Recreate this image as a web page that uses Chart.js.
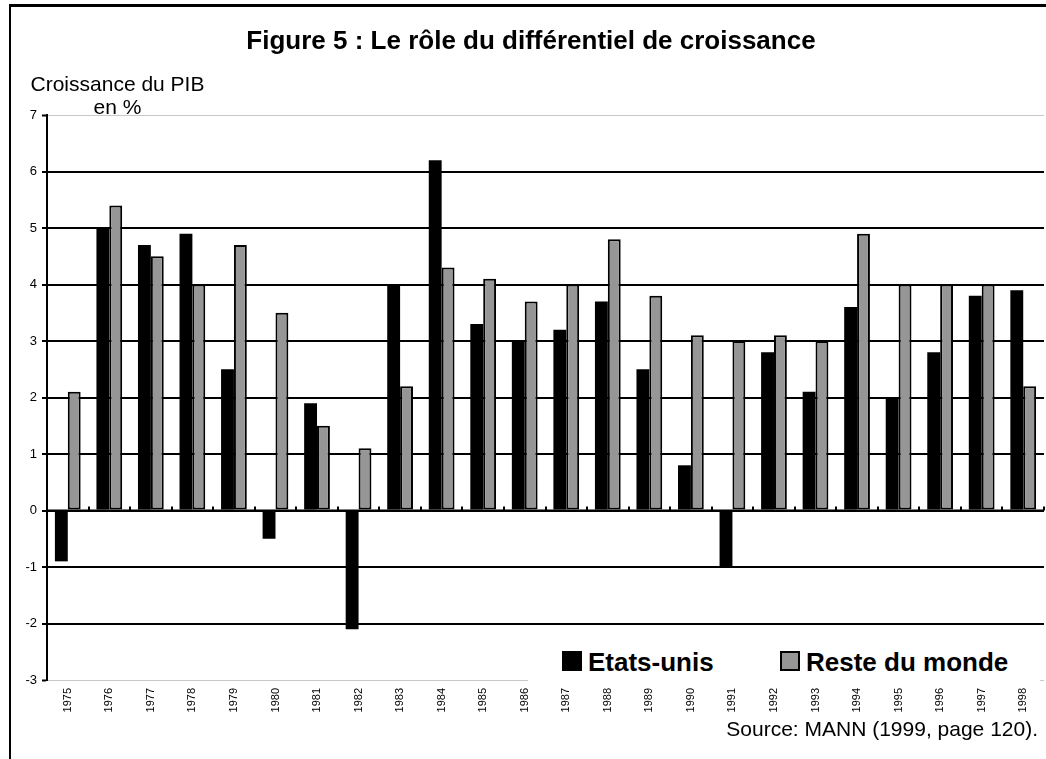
<!DOCTYPE html>
<html lang="fr">
<head>
<meta charset="utf-8">
<title>Figure 5</title>
<script src="https://cdn.jsdelivr.net/npm/chart.js@4/dist/chart.umd.min.js"></script>
<style>
  html, body { margin: 0; padding: 0; background: #fff; overflow: hidden; }
  #wrap { position: relative; width: 1046px; height: 759px; font-family: "Liberation Sans", Arial, sans-serif; color: #000; }
  #frame { position: absolute; left: 9px; top: 4px; width: 1100px; height: 800px; border-left: 2px solid #000; border-top: 3px solid #000; }
  canvas { position: absolute; left: 0; top: 0; }
  .txt { position: absolute; white-space: nowrap; }
  #title { left: 0; width: 1062px; top: 25px; text-align: center; font-weight: bold; font-size: 26px; line-height: 30px; }
  #ylab { left: 30px; width: 175px; top: 72px; text-align: center; font-size: 21px; line-height: 23px; }
  #source { right: 8px; top: 717px; font-size: 21px; line-height: 24px; }
  #legend { position: absolute; left: 528px; top: 636px; width: 512px; height: 48px; background: #fff; }
  .item { position: absolute; top: 11px; font-weight: bold; font-size: 26px; line-height: 30px; }
  .box { position: absolute; width: 20px; height: 20px; box-sizing: border-box; }
</style>
</head>
<body>
<div id="wrap">
  <div id="frame"></div>
  <canvas id="growthChart" width="1046" height="759"></canvas>
  <div class="txt" id="title">Figure 5 : Le rôle du différentiel de croissance</div>
  <div class="txt" id="ylab">Croissance du PIB<br>en %</div>
  <div id="legend">
    <div class="box" style="left:34px; top:15px; background:#000;"></div>
    <div class="item" style="left:60px;">Etats-unis</div>
    <div class="box" style="left:252px; top:15px; background:#969696; border:2px solid #000;"></div>
    <div class="item" style="left:278px;">Reste du monde</div>
  </div>
  <div class="txt" id="source">Source: MANN (1999, page 120).</div>
</div>
<script>
// données
const years = ['1975','1976','1977','1978','1979','1980','1981','1982','1983','1984','1985','1986',
               '1987','1988','1989','1990','1991','1992','1993','1994','1995','1996','1997','1998'];
const usGrowth = [-0.9, 5.0, 4.7, 4.9, 2.5, -0.5, 1.9, -2.1, 4.0, 6.2, 3.3, 3.0,
                  3.2, 3.7, 2.5, 0.8, -1.0, 2.8, 2.1, 3.6, 2.0, 2.8, 3.8, 3.9];
const worldGrowth = [2.1, 5.4, 4.5, 4.0, 4.7, 3.5, 1.5, 1.1, 2.2, 4.3, 4.1, 3.7,
                     4.0, 4.8, 3.8, 3.1, 3.0, 3.1, 3.0, 4.9, 4.0, 4.0, 4.0, 2.2];
const seriesNames = ['Etats-unis', 'Reste du monde'];
const yMin = -3, yMax = 7;

const FONT = '"Liberation Sans", Arial, sans-serif';

// petites graduations de l'axe des abscisses sur la ligne zéro
const zeroTicks = {
    id: 'zeroTicks',
    afterDatasetsDraw(chart) {
        const xs = chart.scales.x, ys = chart.scales.y;
        const ctx = chart.ctx;
        const y0 = ys.getPixelForValue(0);
        const step = xs.getPixelForValue(1) - xs.getPixelForValue(0);
        ctx.save();
        ctx.strokeStyle = '#000';
        ctx.lineWidth = 2;
        ctx.beginPath();
        ctx.moveTo(chart.chartArea.left, y0);
        ctx.lineTo(chart.chartArea.right, y0);
        for (let i = 0; i < years.length; i++) {
            const x = Math.round(xs.getPixelForValue(i) + step / 2);
            ctx.moveTo(x, y0);
            ctx.lineTo(x, y0 - 4);
        }
        ctx.stroke();
        ctx.restore();
    }
};

const ctx = document.getElementById('growthChart').getContext('2d');
new Chart(ctx, {
    type: 'bar',
    data: {
        labels: years,
        datasets: [
            { label: seriesNames[0], data: usGrowth, backgroundColor: '#000000', borderWidth: 0 },
            { label: seriesNames[1], data: worldGrowth, backgroundColor: '#969696' }
        ]
    },
    options: {
        responsive: false,
        animation: false,
        devicePixelRatio: 1,
        layout: { padding: { top: 115, left: 0, right: 2, bottom: 0 } },
        datasets: {
            bar: {
                borderColor: '#000', borderWidth: 2, borderSkipped: false,
                categoryPercentage: 0.62, barPercentage: 1
            }
        },
        plugins: {
            legend: { display: false },
            title: { display: false },
            tooltip: { enabled: false }
        },
        scales: {
            x: {
                grid: { display: false, drawTicks: false },
                border: { display: false },
                ticks: {
                    minRotation: 90, maxRotation: 90, padding: 8, autoSkip: false,
                    color: '#000', font: { family: FONT, size: 11 }
                },
                afterFit(scale) { scale.height = 79; }
            },
            y: {
                min: yMin, max: yMax,
                ticks: { stepSize: 1, padding: 5, color: '#000', font: { family: FONT, size: 13 } },
                grid: {
                    color: c => (c.tick && (c.tick.value === yMax || c.tick.value === yMin)) ? '#c8c8c8' : '#000',
                    lineWidth: c => (c.tick && (c.tick.value === yMax || c.tick.value === yMin)) ? 1 : 2,
                    tickColor: '#000', tickWidth: 2, tickLength: 5
                },
                border: { display: true, color: '#000', width: 2 },
                afterFit(scale) { scale.width = 47; }
            }
        }
    },
    plugins: [zeroTicks]
});
</script>
</body>
</html>
